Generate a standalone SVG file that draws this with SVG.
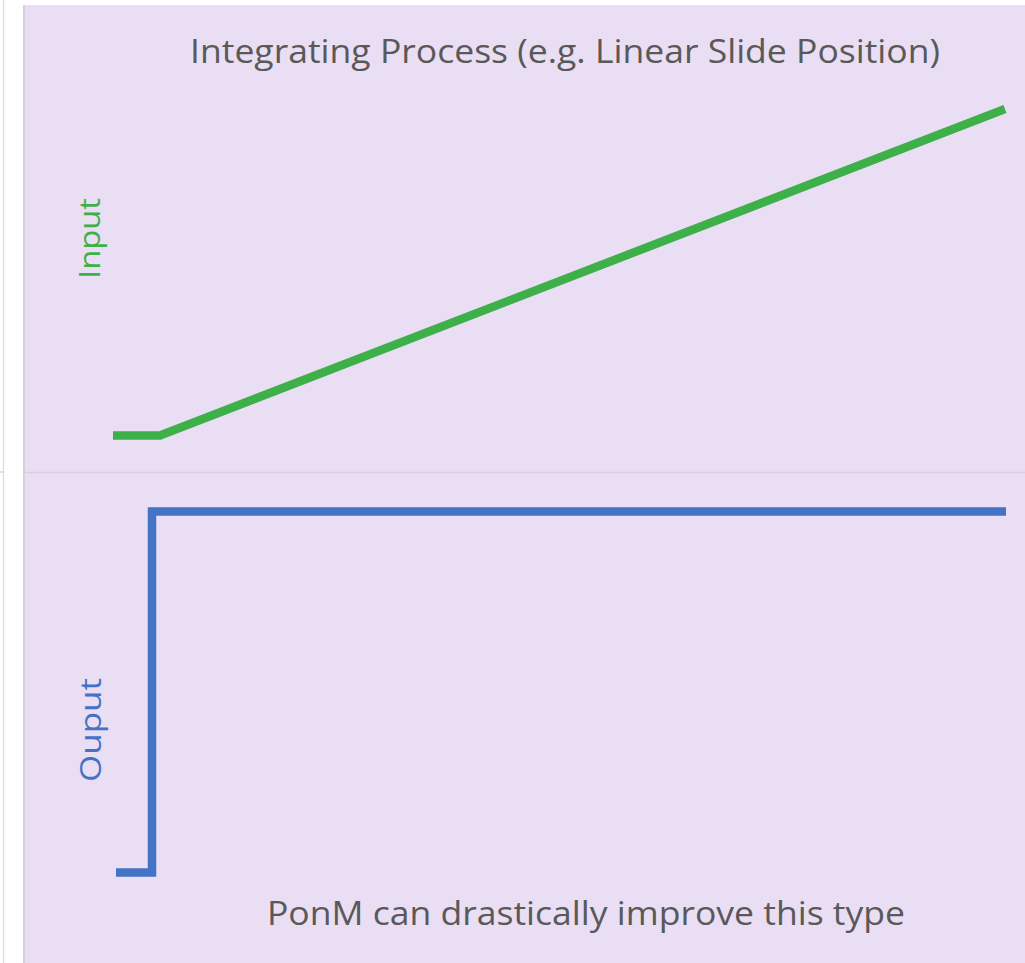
<svg xmlns="http://www.w3.org/2000/svg" width="1025" height="963" viewBox="0 0 1025 963">
  <style>
    .lbl { font-family: "Open Sans", "Noto Sans", "DejaVu Sans", sans-serif; }
    .title { font-size: 33px; fill: #595959; }
    .axis { font-size: 29px; }
    .trace { fill: none; stroke-width: 8.5; stroke-linejoin: miter; stroke-linecap: butt; }
  </style>
  <!-- page and panel -->
  <rect x="0" y="0" width="1025" height="963" fill="#ffffff"/>
  <line x1="3.5" y1="0" x2="3.5" y2="963" stroke="#e0e0e0" stroke-width="1.5"/>
  <line x1="0" y1="472" x2="4" y2="472" stroke="#d9d9d9" stroke-width="1.5"/>
  <rect id="panel" x="24" y="5" width="1001" height="958" fill="#EADEF4"/>
  <line x1="24" y1="5" x2="24" y2="963" stroke="#d6d0da" stroke-width="2"/>
  <line id="divider" x1="24" y1="472.5" x2="1025" y2="472.5" stroke="#d8d1dc" stroke-width="1.5"/>

  <g id="title">
    <text class="lbl title" x="565" y="63" text-anchor="middle" textLength="750" lengthAdjust="spacingAndGlyphs">Integrating Process (e.g. Linear Slide Position)</text>
  </g>

  <g id="input-label">
    <text class="lbl axis" fill="#3DB04A" transform="translate(100,238.5) rotate(-90)" text-anchor="middle" textLength="81" lengthAdjust="spacingAndGlyphs">Input</text>
  </g>
  <g id="output-label">
    <text class="lbl axis" fill="#4472C4" transform="translate(101,730) rotate(-90)" text-anchor="middle" textLength="104" lengthAdjust="spacingAndGlyphs">Ouput</text>
  </g>

  <g id="traces">
    <polyline id="input-trace" class="trace" stroke="#3DB04A" points="113,435.5 160,435.5 1005,109"/>
    <polyline id="output-trace" class="trace" stroke="#4472C4" points="116,872.5 152,872.5 152,511.5 1006,511.5"/>
  </g>

  <g id="note">
    <text class="lbl title" x="267" y="925" textLength="638" lengthAdjust="spacingAndGlyphs">PonM can drastically improve this type</text>
  </g>
</svg>
